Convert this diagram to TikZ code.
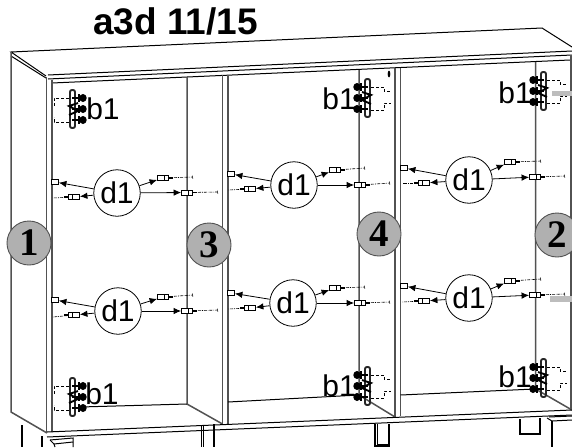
\documentclass[tikz,border=0pt]{standalone}
\usepackage{fontspec}
\setmainfont{Liberation Sans}
\newfontfamily\numfont{Liberation Serif}
\usetikzlibrary{arrows.meta,positioning}
\definecolor{numgray}{gray}{0.69}
\definecolor{panelgray}{gray}{0.32}
\definecolor{bargray}{gray}{0.74}
\tikzset{
	edge/.style={black,line width=1pt},
	panel/.style={panelgray,line width=1.5pt},
	numcirc/.style={circle,draw=panelgray,line width=0.9pt,fill=numgray,minimum size=44pt,inner sep=0pt,font=\numfont\fontsize{39}{39}\selectfont\bfseries},
	donecirc/.style={circle,draw=black,line width=0.8pt,fill=white,minimum size=46.5pt,inner sep=0pt,font=\fontsize{30}{30}\selectfont},
	blabel/.style={inner sep=0pt,font=\fontsize{30}{30}\selectfont},
	dowel/.style={draw=black,line width=0.8pt,fill=white,minimum width=11pt,minimum height=5pt,inner sep=0pt,path picture={\draw [line width=0.7pt] (path picture bounding box.center) ++(1.5pt,-3pt) to ++(0,6pt);}},
	stub/.style={draw=black,line width=0.8pt,fill=white,minimum width=7pt,minimum height=4.5pt,inner sep=0pt},
	pointer/.style={black,line width=0.8pt,-{Latex[length=7.5pt,width=6.5pt]}},
	leader/.style={black,line width=0.6pt,densely dashdotted},
	pin/.style={black,line width=1.3pt},
	hinge/.pic={
		\draw [black!85,line width=1.9pt,rounded corners=2pt] (-1,-19) rectangle (4,19);
		\foreach \sy in {-11,0,11} {
			\draw [black,line width=2.4pt] (-9,\sy) to (2,\sy);
			\fill [black] (-9,\sy) ellipse (3.7 and 4);
			\draw [black,line width=1.4pt] (-5,\sy-4) to (-5,\sy+4);
		}
		\draw [black,line width=1.9pt] (-4,-6) to (5,-3) to (-4,2) to (5,6);
	},
	leaderright/.pic={
		\draw [black,line width=0.6pt,densely dashed] (5,-11) to (18,-11) to (18,-7) to (25,-7);
		\draw [black,line width=0.6pt,densely dashed] (5,12) to (18,12) to (18,5) to (25,5);
	},
	leaderleft/.pic={
		\draw [black,line width=0.6pt,densely dashed] (5,-11) to (20,-11) to (20,-3);
		\draw [black,line width=0.6pt,densely dashed] (5,13) to (20,13) to (20,8);
	},
}
% #1 name, #2 circle, #3 stub, #4/#5 left dowel and end, #6/#7 upper dowel and end, #8/#9 lower dowel and end
\newcommand{\dgroup}[9]{
	\node [stub] (#1a) at #3 {};
	\coordinate (#1bend) at #5;
	\coordinate (#1cend) at #7;
	\coordinate (#1dend) at #9;
	\draw [leader] #4 to (#1bend);
	\draw [leader,-{Bar[width=3pt,length=0.7pt]}] #6 to (#1cend);
	\draw [leader,-{Bar[width=3pt,length=0.7pt]}] #8 to (#1dend);
	\node [dowel,xscale=-1] (#1b) at #4 {};
	\node [dowel] (#1c) at #6 {};
	\node [dowel] (#1d) at #8 {};
	\draw [pin] (#1b.east) to ++(-4,0);
	\draw [pin] (#1c.east) to ++(4,0);
	\draw [pin] (#1d.east) to ++(4,0);
	\node [donecirc] (#1) at #2 {d1};
	\draw [pointer] (#1) to (#1a);
	\draw [pointer] (#1) to (#1b);
	\draw [pointer] (#1) to (#1c);
	\draw [pointer] (#1) to (#1d);
}

\begin{document}
\begin{tikzpicture}[x=1pt,y=-1pt]
	\useasboundingbox (0,0) rectangle (572,447);
	\fill [white] (0,0) rectangle (572,447);
	\node [inner sep=0pt,font=\fontsize{37}{37}\selectfont\bfseries] (title) at (175.5,21) {a3d 11/15};

	% top
	\draw [edge] (46,76) to (11,52) to (542,28) to (572,47);
	\draw [edge] (48,75) to (572,51);
	\draw [edge] (48,79) to (572,55);
	\draw [edge] (52,83) to (570,60);
	\draw [edge] (11,56) to (46,78);

	% panels
	\draw [panel] (11,52) to (11,412) to (47,433);
	\draw [panel] (46.5,77) to (46.5,433);
	\draw [panel] (52,80) to (52,432);
	\draw [panel] (187,77) to (187,404) to (222.5,424);
	\draw [panel] (222.5,75) to (222.5,424);
	\draw [panel] (228,75) to (228,424);
	\draw [panel] (359,70) to (359,395) to (395,417);
	\draw [panel] (395,68) to (395,417);
	\draw [panel] (400.5,68) to (400.5,416);
	\draw [panel] (535.5,62) to (535.5,389) to (572,410);
	\draw [panel,line width=2.2pt] (571,56) to (571,410);

	% floor
	\draw [edge] (80,407) to (187,404);
	\draw [edge] (228,402) to (359,395);
	\draw [edge] (400.5,395) to (535,389);
	\draw [edge] (47,432) to (572,410);
	\draw [edge] (47,437) to (572,415);

	% legs
	\draw [edge,line width=1.5pt] (22,425) to (22,447);
	\draw [edge,line width=1.5pt] (42,436) to (42,447);
	\draw [edge] (50,440) to (73,438) to (73,447);
	\draw [edge] (50,440) to (54,444) to (73,442);
	\draw [edge] (54,444) to (55,447);
	\draw [edge] (201,425) to (201,447);
	\draw [edge] (203.5,425) to (203.5,447);
	\draw [edge,line width=1.3pt] (214,424) to (214,447);
	\draw [edge,line width=1.3pt] (375,424) to (375,446) to (389,446) to (389,424);
	\draw [edge] (377,424) to (377,444) to (389,444);
	\draw [edge,line width=1.3pt] (520,419) to (520,434) to (540,434) to (540,418);
	\draw [edge] (547,418) to (552,421) to (572,420);
	\draw [edge,line width=1.3pt] (552,421) to (552,447);
	\draw [edge] (549,417) to (572,416);

	% grey bars and mark
	\fill [bargray] (552,90.5) rectangle (572,96);
	\fill [bargray] (550,296) rectangle (572,302);
	\fill [black] (389,74) ellipse (1.3 and 3.5);

	\dgroup{dl}{(117,193)}{(55,182)}{(74,197)}{(53,198)}{(163,178)}{(193,177)}{(187,192.5)}{(218,192)}
	\dgroup{dm}{(294,185)}{(231,174)}{(250,189)}{(228,190)}{(335,170)}{(365,168)}{(360,185)}{(390,183)}
	\dgroup{dr}{(469,180)}{(404,168)}{(424,183)}{(402,183)}{(510,162)}{(541,161)}{(535,177)}{(565,176)}
	\dgroup{el}{(118,311)}{(55,300)}{(74,315)}{(53,317)}{(163,297)}{(193,295)}{(187,311)}{(218,310)}
	\dgroup{em}{(293,303)}{(231,293)}{(250,308)}{(228,309)}{(335,288)}{(365,287)}{(360,303)}{(390,302)}
	\dgroup{er}{(469,298)}{(404,286)}{(424,301)}{(402,302)}{(510,281)}{(541,279)}{(535,295)}{(565,294)}

	% hinges
	\pic [xscale=-1] at (74,109) {hinge};
	\pic [xscale=-1] at (74,109) {leaderleft};
	\pic [xscale=-1] at (74,397) {hinge};
	\pic [xscale=-1] at (74,397) {leaderleft};
	\pic at (366,98) {hinge};
	\pic at (366,98) {leaderright};
	\pic at (542,91) {hinge};
	\pic at (542,91) {leaderright};
	\pic at (366,386) {hinge};
	\pic at (366,386) {leaderright};
	\pic at (542,378) {hinge};
	\pic at (542,378) {leaderright};

	\node [blabel] (btl) at (103,109) {b1};
	\node [blabel] (bbl) at (102,394) {b1};
	\node [blabel] (btm) at (339,99) {b1};
	\node [blabel] (btr) at (515,93) {b1};
	\node [blabel] (bbm) at (339,386) {b1};
	\node [blabel] (bbr) at (515,377) {b1};

	\node [numcirc] (one) at (29,243) {1};
	\node [numcirc] (three) at (209,245) {3};
	\node [numcirc] (four) at (379,234) {4};
	\node [numcirc] (two) at (557,235) {2};
\end{tikzpicture}
\end{document}
